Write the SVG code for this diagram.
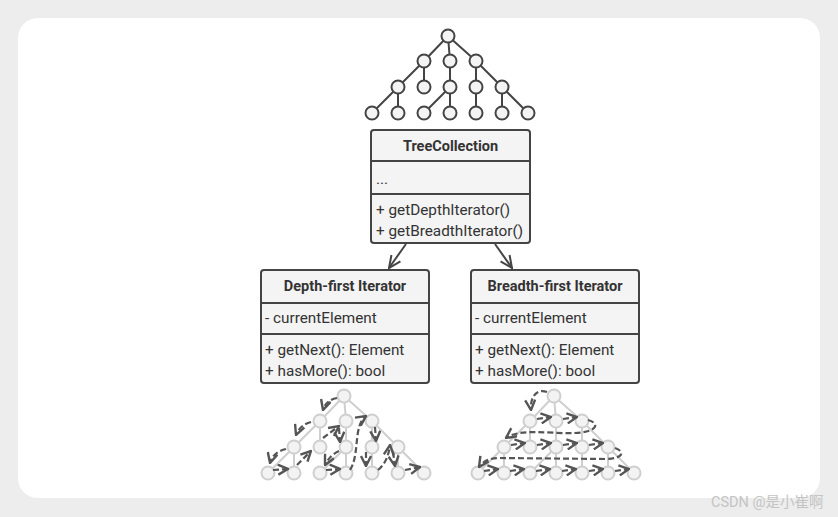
<svg xmlns="http://www.w3.org/2000/svg" xmlns:xlink="http://www.w3.org/1999/xlink" width="838" height="517" viewBox="0 0 838 517">
<style>
.box{fill:#f4f4f4;stroke:#444;stroke-width:2}
.div{stroke:#444;stroke-width:2}
.t{font-family:Roboto,"Open Sans",sans-serif;font-size:15.3px;fill:#333}
.tb{font-family:Roboto,"Open Sans",sans-serif;font-size:14.5px;font-weight:bold;fill:#333;text-anchor:middle}
.conn{fill:none;stroke:#444;stroke-width:2}
.dash{fill:none;stroke:#555;stroke-width:2.2;stroke-dasharray:6 3}
</style>
<defs>
<marker id="ah" viewBox="0 0 14 14" refX="13" refY="7" markerWidth="14" markerHeight="14" markerUnits="userSpaceOnUse" orient="auto">
<path d="M1,1.5 L13,7 L1,12.5" fill="none" stroke="#444" stroke-width="2"/>
</marker>
<marker id="dh" viewBox="0 0 12 12" refX="11" refY="6" markerWidth="12" markerHeight="12" markerUnits="userSpaceOnUse" orient="auto">
<path d="M1,1 L11,6 L1,11" fill="none" stroke="#555" stroke-width="2.4"/>
</marker>
<g id="treeEdges">
<path fill="none" stroke-width="2" d="M0,0 L-24,25 M0,0 L2,25 M0,0 L28,25 M-24,25 L-50,51 M-24,25 L-24,51 M2,25 L2,51 M28,25 L28,51 M28,25 L54,51 M-50,51 L-76,77 M-50,51 L-50,77 M2,51 L-24,77 M2,51 L2,77 M28,51 L28,77 M54,51 L54,77 M54,51 L80,77"/>
</g>
<g id="treeNodes" stroke-width="2">
<circle cx="0" cy="0" r="6.5"/>
<circle cx="-24" cy="25" r="6.5"/><circle cx="2" cy="25" r="6.5"/><circle cx="28" cy="25" r="6.5"/>
<circle cx="-50" cy="51" r="6.5"/><circle cx="-24" cy="51" r="6.5"/><circle cx="2" cy="51" r="6.5"/><circle cx="28" cy="51" r="6.5"/><circle cx="54" cy="51" r="6.5"/>
<circle cx="-76" cy="77" r="6.5"/><circle cx="-50" cy="77" r="6.5"/><circle cx="-24" cy="77" r="6.5"/><circle cx="2" cy="77" r="6.5"/><circle cx="28" cy="77" r="6.5"/><circle cx="54" cy="77" r="6.5"/><circle cx="80" cy="77" r="6.5"/>
</g>
</defs>
<rect x="0" y="0" width="838" height="517" fill="#ededed"/>
<rect x="18" y="18" width="802" height="480" rx="20" fill="#ffffff"/>

<g id="tree-top" transform="translate(448,36)">
<use xlink:href="#treeEdges" stroke="#444"/>
<use xlink:href="#treeNodes" fill="#f4f4f4" stroke="#444"/>
</g>

<g id="TreeCollection">
<rect class="box" x="371" y="130" width="159" height="113" rx="3"/>
<line class="div" x1="371" y1="161" x2="530" y2="161"/>
<line class="div" x1="371" y1="194" x2="530" y2="194"/>
<text class="tb" x="450.5" y="151">TreeCollection</text>
<text class="t" x="376" y="184">...</text>
<text class="t" x="376" y="215">+ getDepthIterator()</text>
<text class="t" x="376" y="236">+ getBreadthIterator()</text>
</g>

<g id="DepthFirstIterator">
<rect class="box" x="261" y="270" width="168" height="113" rx="3"/>
<line class="div" x1="261" y1="303" x2="429" y2="303"/>
<line class="div" x1="261" y1="334" x2="429" y2="334"/>
<text class="tb" x="345" y="291">Depth-first Iterator</text>
<text class="t" x="265" y="323">- currentElement</text>
<text class="t" x="265" y="355">+ getNext(): Element</text>
<text class="t" x="265" y="376">+ hasMore(): bool</text>
</g>

<g id="BreadthFirstIterator">
<rect class="box" x="471" y="270" width="168" height="113" rx="3"/>
<line class="div" x1="471" y1="303" x2="639" y2="303"/>
<line class="div" x1="471" y1="334" x2="639" y2="334"/>
<text class="tb" x="555" y="291">Breadth-first Iterator</text>
<text class="t" x="475" y="323">- currentElement</text>
<text class="t" x="475" y="355">+ getNext(): Element</text>
<text class="t" x="475" y="376">+ hasMore(): bool</text>
</g>

<g id="connectors">
<path class="conn" d="M406,244 L389,268" marker-end="url(#ah)"/>
<path class="conn" d="M495,244 L512,268" marker-end="url(#ah)"/>
</g>

<g id="tree-depth">
<g transform="translate(344,396)">
<use xlink:href="#treeEdges" stroke="#cfcfcf"/>
<use xlink:href="#treeNodes" fill="#f3f3f3" stroke="#cfcfcf"/>
</g>
<g marker-end="url(#dh)">
<path class="dash" d="M337,398 Q326,400 323,410"/>
<path class="dash" d="M311,422 Q300,425 296,435"/>
<path class="dash" d="M286,449 Q273,452 270,463"/>
<path class="dash" d="M273,470 L288,469"/>
<path class="dash" d="M297,465 L311,451"/>
<path class="dash" d="M323,438 L339,426"/>
<path class="dash" d="M339,428 L340,442"/>
<path class="dash" d="M339,451 Q330,455 325,465"/>
<path class="dash" d="M326,470 L340,469"/>
<path class="dash" d="M350,470 C360,455 353,425 366,416"/>
<path class="dash" d="M375,427 L376,441"/>
<path class="dash" d="M366,452 L366,466"/>
<path class="dash" d="M378,470 Q388,462 390,445"/>
<path class="dash" d="M393,452 L395,466"/>
<path class="dash" d="M405,470 L420,467"/>
</g>
</g>

<g id="tree-breadth">
<g transform="translate(554,396)">
<use xlink:href="#treeEdges" stroke="#cfcfcf"/>
<use xlink:href="#treeNodes" fill="#f3f3f3" stroke="#cfcfcf"/>
</g>
<g marker-end="url(#dh)">
<path class="dash" d="M547,392 C536,388 530,398 531,410"/>
<path class="dash" d="M537,419 L551,417"/>
<path class="dash" d="M563,419 L577,417"/>
<path class="dash" d="M588,420 C600,423 598,432 575,433 C550,434 520,428 506,438"/>
<path class="dash" d="M511,445 L525,443"/>
<path class="dash" d="M537,445 L551,443"/>
<path class="dash" d="M563,445 L577,443"/>
<path class="dash" d="M589,445 L603,443"/>
<path class="dash" d="M615,448 C625,451 624,459 605,459 L500,458 Q485,458 479,467"/>
<path class="dash" d="M484,471 L498,469"/>
<path class="dash" d="M510,471 L524,469"/>
<path class="dash" d="M536,471 L550,469"/>
<path class="dash" d="M562,471 L576,469"/>
<path class="dash" d="M589,471 L603,469"/>
<path class="dash" d="M615,471 L629,469"/>
</g>
</g>

<text x="711" y="507" font-family="Roboto,'Noto Sans CJK SC',sans-serif" font-size="14.5" fill="#c4c4c4">CSDN @是小崔啊</text>
</svg>
